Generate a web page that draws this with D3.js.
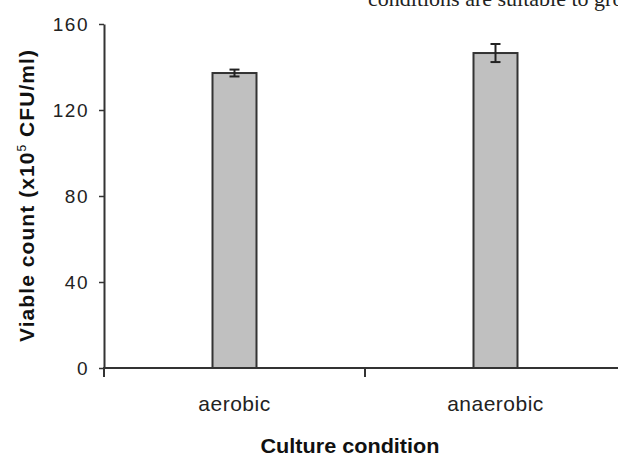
<!DOCTYPE html>
<html>
<head>
<meta charset="utf-8">
<script src="https://cdn.jsdelivr.net/npm/d3@7"></script>
<style>
  body { margin: 0; background: #fff; }
  svg { display: block; }
</style>
</head>
<body>
<svg id="chart" width="618" height="456"></svg>
<script>
// values
var conditions = ["aerobic", "anaerobic"];
var viableCount = [137.2, 146.5]; // x10^5 CFU/ml
var errorSize = [1.6, 4.2];
var yTicks = [0, 40, 80, 120, 160];

const svg = d3.select("#chart");
const axisColor = "#333";
const sans = "Liberation Sans, Arial, sans-serif";

var y = d3.scaleLinear().domain([0, 160]).range([368, 24]);
var x = d3.scaleBand().domain(conditions).range([104, 626]).padding(0);
const BAR_W = 44;

// text line of the page above the figure (cut off like in the scan)
svg.append("text")
  .attr("x", 368).attr("y", 6)
  .attr("font-family", "Liberation Serif, serif")
  .attr("font-size", 22)
  .attr("fill", "#222")
  .text("conditions are suitable to grow");

// bars
var bars = svg.append("g");
bars.selectAll("rect")
  .data(conditions)
  .join("rect")
  .attr("x", function (d) { return x(d) + x.bandwidth() / 2 - BAR_W / 2; })
  .attr("y", function (d, i) { return y(viableCount[i]); })
  .attr("width", BAR_W)
  .attr("height", function (d, i) { return y(0) - y(viableCount[i]); })
  .attr("fill", "#c0c0c0")
  .attr("stroke", axisColor)
  .attr("stroke-width", 2);

// error bars
var err = svg.append("g").attr("stroke", "#222").attr("stroke-width", 2);
conditions.forEach(function (d, i) {
  var cx = x(d) + x.bandwidth() / 2;
  var hi = y(viableCount[i] + errorSize[i]);
  var lo = y(viableCount[i] - errorSize[i]);
  err.append("line").attr("x1", cx).attr("x2", cx).attr("y1", hi).attr("y2", lo);
  err.append("line").attr("x1", cx - 5).attr("x2", cx + 5).attr("y1", hi).attr("y2", hi);
  err.append("line").attr("x1", cx - 5).attr("x2", cx + 5).attr("y1", lo).attr("y2", lo);
});

// y axis
var yAxis = svg.append("g")
  .attr("transform", "translate(104,0)")
  .call(d3.axisLeft(y).tickValues(yTicks).tickSize(5).tickSizeOuter(0).tickPadding(10));
yAxis.select(".domain").attr("stroke", axisColor).attr("stroke-width", 2);
yAxis.selectAll(".tick line").attr("stroke", axisColor).attr("stroke-width", 1.5);
yAxis.selectAll(".tick text")
  .attr("font-family", sans)
  .attr("font-size", 19)
  .attr("letter-spacing", 1.5)
  .attr("fill", "#222");

// x axis: line runs to the edge, ticks at category boundaries
svg.append("line")
  .attr("x1", 103).attr("x2", 618)
  .attr("y1", y(0)).attr("y2", y(0))
  .attr("stroke", axisColor).attr("stroke-width", 2);
svg.append("g").selectAll("line")
  .data(conditions)
  .join("line")
  .attr("x1", function (d) { return x(d); })
  .attr("x2", function (d) { return x(d); })
  .attr("y1", y(0)).attr("y2", y(0) + 9)
  .attr("stroke", axisColor).attr("stroke-width", 2);

svg.append("g").selectAll("text")
  .data(conditions)
  .join("text")
  .attr("x", function (d) { return x(d) + x.bandwidth() / 2; })
  .attr("y", 411)
  .attr("text-anchor", "middle")
  .attr("font-family", sans)
  .attr("font-size", 21)
  .attr("letter-spacing", 0.5)
  .attr("fill", "#222")
  .text(function (d) { return d; });

// axis titles
svg.append("text")
  .attr("x", 350).attr("y", 453)
  .attr("text-anchor", "middle")
  .attr("font-family", sans)
  .attr("font-size", 21)
  .attr("font-weight", "bold")
  .attr("fill", "#111")
  .attr("textLength", 179)
  .attr("lengthAdjust", "spacingAndGlyphs")
  .text("Culture condition");

var yTitle = svg.append("text")
  .attr("transform", "translate(34,196) rotate(-90)")
  .attr("text-anchor", "middle")
  .attr("font-family", sans)
  .attr("font-size", 21)
  .attr("font-weight", "bold")
  .attr("fill", "#111")
  .attr("textLength", 292)
  .attr("lengthAdjust", "spacing");
yTitle.append("tspan").text("Viable count (x10");
yTitle.append("tspan").attr("dy", -8).attr("font-size", 12).attr("font-weight", "normal").text("5");
yTitle.append("tspan").attr("dy", 8).text(" CFU/ml)");
</script>
</body>
</html>
